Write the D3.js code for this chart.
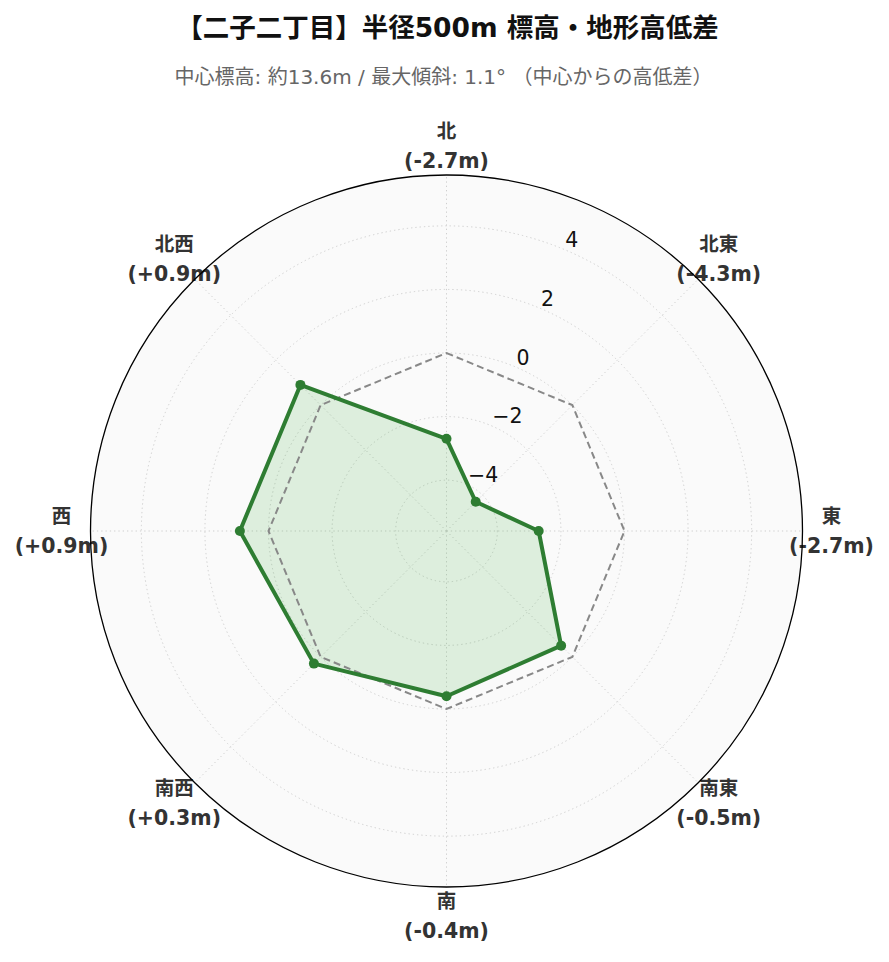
<!DOCTYPE html>
<html>
<head>
<meta charset="utf-8">
<script src="https://cdn.jsdelivr.net/npm/d3@7"></script>
<style>
  body { margin: 0; background: #fff; }
  svg { display: block; font-family: "DejaVu Sans", "Noto Sans CJK JP", sans-serif; }
</style>
</head>
<body>
<div id="chart"></div>
<script>
// 方位ごとの高低差 (m)
const directions = ["北", "北東", "東", "南東", "南", "南西", "西", "北西"];
const diffs = [-2.7, -4.3, -2.7, -0.5, -0.4, 0.3, 0.9, 0.9];
const baseline = [0, 0, 0, 0, 0, 0, 0, 0];
const rTicks = [-4, -2, 0, 2, 4];
const rLimit = [-5.6, 5.6];

const titleText = "【二子二丁目】半径500m 標高・地形高低差";
const subtitleText = "中心標高: 約13.6m / 最大傾斜: 1.1° （中心からの高低差）";

const width = 889, height = 962;
const cx = 446.5, cy = 531;
const outerR = 356;

const svg = d3.select("#chart").append("svg")
    .attr("width", width)
    .attr("height", height);

// タイトル
svg.append("text")
    .attr("x", width / 2 + 3)
    .attr("y", 37)
    .attr("text-anchor", "middle")
    .attr("font-size", 26.5)
    .attr("font-weight", "bold")
    .attr("fill", "#111")
    .text(titleText);

svg.append("text")
    .attr("x", width / 2 - 1)
    .attr("y", 84)
    .attr("text-anchor", "middle")
    .attr("font-size", 20)
    .attr("fill", "#666")
    .text(subtitleText);

const r = d3.scaleLinear().domain(rLimit).range([0, outerR]);
const angle = d3.scaleLinear().domain([0, directions.length]).range([0, 2 * Math.PI]);

const g = svg.append("g").attr("transform", `translate(${cx},${cy})`);

// 背景
g.append("circle").attr("r", outerR).attr("fill", "#fafafa");

// グリッド（同心円）
g.selectAll("circle.grid")
    .data(rTicks)
    .enter()
    .append("circle")
    .attr("class", "grid")
    .attr("r", d => r(d))
    .attr("fill", "none")
    .attr("stroke", "#cfcfcf")
    .attr("stroke-width", 1)
    .attr("stroke-dasharray", "1.3,3");

// 放射線
g.selectAll("line.spoke")
    .data(directions)
    .enter()
    .append("line")
    .attr("class", "spoke")
    .attr("x1", 0).attr("y1", 0)
    .attr("x2", (d, i) => outerR * Math.sin(angle(i)))
    .attr("y2", (d, i) => -outerR * Math.cos(angle(i)))
    .attr("stroke", "#cfcfcf")
    .attr("stroke-width", 1)
    .attr("stroke-dasharray", "1.3,3");

const radial = d3.lineRadial()
    .angle((d, i) => angle(i))
    .radius(d => r(d))
    .curve(d3.curveLinearClosed);

// 高低差の面
g.append("path")
    .attr("d", radial(diffs))
    .attr("fill", "#4caf50")
    .attr("fill-opacity", 0.17)
    .attr("stroke", "none");

// 基準線 (0m)
g.append("path")
    .attr("d", radial(baseline))
    .attr("fill", "none")
    .attr("stroke", "#888")
    .attr("stroke-width", 2)
    .attr("stroke-dasharray", "7,4");

// 高低差の線
g.append("path")
    .attr("d", radial(diffs))
    .attr("fill", "none")
    .attr("stroke", "#2e7d32")
    .attr("stroke-width", 4)
    .attr("stroke-linejoin", "round");

g.selectAll("circle.pt")
    .data(diffs)
    .enter()
    .append("circle")
    .attr("class", "pt")
    .attr("cx", (d, i) => r(d) * Math.sin(angle(i)))
    .attr("cy", (d, i) => -r(d) * Math.cos(angle(i)))
    .attr("r", 5)
    .attr("fill", "#2e7d32");

// 目盛りラベル (22.5°方向)
const labelAngle = Math.PI / 8;
g.selectAll("text.rtick")
    .data(rTicks)
    .enter()
    .append("text")
    .attr("class", "rtick")
    .attr("x", d => r(d) * Math.sin(labelAngle) + 2)
    .attr("y", d => -r(d) * Math.cos(labelAngle) - 2)
    .attr("font-size", 20.5)
    .attr("fill", "#111")
    .text(d => d < 0 ? "\u2212" + Math.abs(d) : d);

// 方位ラベル
const labelR = 385;
const dirLabels = g.selectAll("g.dir")
    .data(directions)
    .enter()
    .append("g")
    .attr("class", "dir")
    .attr("transform", (d, i) => `translate(${labelR * Math.sin(angle(i))},${-labelR * Math.cos(angle(i))})`);

dirLabels.append("text")
    .attr("y", -8)
    .attr("text-anchor", "middle")
    .attr("font-size", 19.5)
    .attr("font-weight", "bold")
    .attr("fill", "#333")
    .text(d => d);

dirLabels.append("text")
    .attr("y", 22)
    .attr("text-anchor", "middle")
    .attr("font-size", 20.5)
    .attr("font-weight", "bold")
    .attr("fill", "#333")
    .text((d, i) => `(${diffs[i] > 0 ? "+" : ""}${diffs[i].toFixed(1)}m)`);

// 外周
g.append("circle")
    .attr("r", outerR)
    .attr("fill", "none")
    .attr("stroke", "#000")
    .attr("stroke-width", 1.3);
</script>
</body>
</html>
